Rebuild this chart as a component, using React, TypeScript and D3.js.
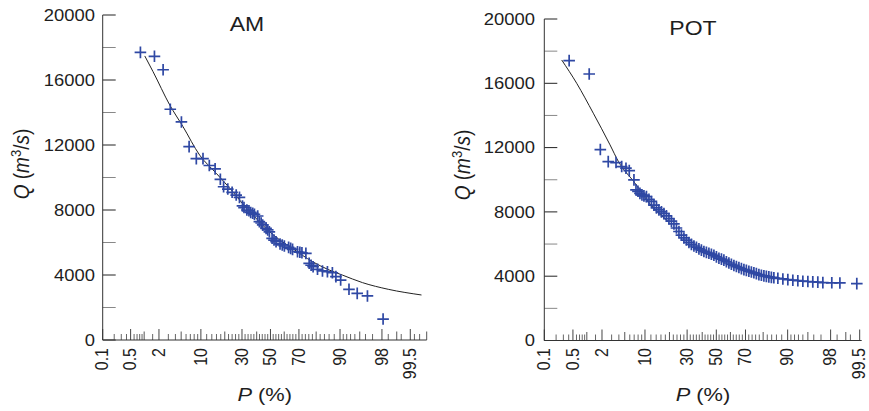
import React from "react";
import * as d3 from "d3";

// ---------- data ----------
const amP = [0.83, 1.63, 2.4, 3.25, 5.05, 6.7, 8.6, 10.7, 13.0, 15.4, 17.8, 19.4, 21.6, 24.0, 26.4, 28.4, 30.3, 31.3, 33.2, 34.6, 35.8, 37.2, 38.4, 40.7, 41.9, 43.2, 44.3, 46.8, 48.0, 49.2, 51.2, 52.6, 54.1, 57.0, 58.6, 60.1, 63.1, 64.5, 65.8, 69.1, 70.6, 71.9, 74.3, 76.2, 77.3, 78.4, 80.7, 83.1, 85.3, 87.3, 88.6, 90.2, 92.6, 94.5, 96.3, 98.1];
const amQ = [17700, 17460, 16630, 14200, 13420, 11900, 11160, 11160, 10740, 10530, 9890, 9430, 9290, 9090, 8920, 8780, 8250, 8150, 8000, 7950, 7850, 7800, 7740, 7630, 7280, 7200, 7080, 6870, 6780, 6660, 6260, 6150, 6050, 5910, 5850, 5785, 5700, 5640, 5580, 5430, 5400, 5370, 5330, 4720, 4600, 4510, 4350, 4250, 4200, 4140, 3900, 3690, 3120, 2870, 2710, 1290];
const amFitP = [1.03, 1.53, 3.18, 5.36, 9.6, 15.9, 24.2, 30.3, 40.5, 51.6, 65.5, 78.1, 86.0, 90.7, 95.5, 98.5, 99.73];
const amFitQ = [17480, 16510, 14460, 13130, 11380, 10260, 9150, 8400, 7400, 6500, 5650, 4820, 4310, 4000, 3530, 3120, 2770];

const potP = [0.41, 1.12, 1.86, 2.61, 3.58, 4.46, 5.23, 5.89, 6.95,
  7.45, 7.96, 8.50, 9.08, 9.68, 10.47, 11.31, 12.20, 13.13, 14.12, 15.13, 16.21, 17.34, 18.51, 19.74, 21.01, 22.33, 23.70, 25.11, 26.53, 28.03, 29.56, 31.14, 32.74, 34.38, 36.05, 37.75, 39.44, 41.18, 42.94, 44.71, 46.49, 48.28, 50.07, 51.87, 53.67, 55.41, 57.18, 58.94, 60.68, 62.40, 64.09, 65.76, 67.40, 69.00, 70.54, 72.07, 73.57, 75.02, 76.42, 77.79, 79.10, 80.37, 81.57, 82.74, 83.87, 84.94,
  86.56, 88.41, 90.06, 91.54, 92.85, 94.00, 95.00, 95.85, 96.59, 97.22, 98.10, 98.68, 99.42];
const potQ = [17410, 16580, 11880, 11130, 11070, 10820, 10720, 10570, 9990,
  9370, 9280, 9150, 9060, 9000, 8950, 8780, 8650, 8420, 8250, 8120, 8000, 7900, 7750, 7580, 7420, 7250, 7000, 6780, 6560, 6380, 6250, 6100, 5980, 5880, 5800, 5700, 5620, 5540, 5480, 5430, 5370, 5300, 5200, 5120, 5060, 5000, 4900, 4820, 4740, 4670, 4600, 4540, 4470, 4410, 4360, 4310, 4260, 4210, 4160, 4100, 4060, 4020, 3990, 3960, 3930, 3900,
  3870, 3830, 3790, 3750, 3720, 3690, 3670, 3650, 3630, 3600, 3590, 3580, 3540];
const potFitP = [0.274, 0.607, 1.355, 2.81, 3.91, 7.2, 11.66, 19.4];
const potFitQ = [17450, 16000, 14140, 12170, 11150, 9790, 8500, 7400];

const labeledTicks = [0.1, 0.5, 2, 10, 30, 50, 70, 90, 98, 99.5];
const midTicks = [1, 5, 20, 40, 60, 80, 95, 99, 99.8];
const minorTicks = [0.2, 0.3, 0.4, 0.6, 0.7, 0.8, 0.9, 1.5, 3, 4, 6, 7, 8, 9, 12, 14, 16, 18, 22, 24, 26, 28, 32, 34, 36, 38, 42, 44, 46, 48, 52, 54, 56, 58, 62, 64, 66, 68, 72, 74, 76, 78, 82, 84, 86, 88, 91, 92, 93, 94, 96, 97, 98.5, 99.2, 99.6, 99.7];
const yTicks = [0, 2000, 4000, 6000, 8000, 10000, 12000, 14000, 16000, 18000, 20000];
const yLabels = [0, 4000, 8000, 12000, 16000, 20000];

// ---------- helpers ----------
function probit(p: number): number {
  const a = [-3.969683028665376e1, 2.209460984245205e2, -2.759285104469687e2, 1.38357751867269e2, -3.066479806614716e1, 2.506628277459239];
  const b = [-5.447609879822406e1, 1.615858368580409e2, -1.556989798598866e2, 6.680131188771972e1, -1.328068155288572e1];
  const c = [-7.784894002430293e-3, -3.223964580411365e-1, -2.400758277161838, -2.549732539343734, 4.374664141464968, 2.938163982698783];
  const d = [7.784695709041462e-3, 3.224671290700398e-1, 2.445134137142996, 3.754408661907416];
  const pl = 0.02425, ph = 1 - pl;
  if (p < pl) {
    const q = Math.sqrt(-2 * Math.log(p));
    return (((((c[0] * q + c[1]) * q + c[2]) * q + c[3]) * q + c[4]) * q + c[5]) / ((((d[0] * q + d[1]) * q + d[2]) * q + d[3]) * q + 1);
  }
  if (p > ph) {
    const q = Math.sqrt(-2 * Math.log(1 - p));
    return -(((((c[0] * q + c[1]) * q + c[2]) * q + c[3]) * q + c[4]) * q + c[5]) / ((((d[0] * q + d[1]) * q + d[2]) * q + d[3]) * q + 1);
  }
  const q = p - 0.5, r = q * q;
  return (((((a[0] * r + a[1]) * r + a[2]) * r + a[3]) * r + a[4]) * r + a[5]) * q / (((((b[0] * r + b[1]) * r + b[2]) * r + b[3]) * r + b[4]) * r + 1);
}

const SX = 1.15;
const FONT = "'Liberation Sans', Arial, Helvetica, sans-serif";
const BLUE = "#2f48a4";
const TXT = "#1e1e1e";
const MS = 5.8;

function T(props: { x: number; y: number; rot?: number; anchor?: string; size: number; dy?: string; children: React.ReactNode }) {
  const { x, y, rot, anchor, size, dy, children } = props;
  return (
    <g transform={`translate(${x},${y}) scale(${SX},1)`}>
      <text transform={rot ? `rotate(${rot})` : undefined} textAnchor={anchor || "start"} fontSize={size} dy={dy} fill={TXT} fontFamily={FONT}>
        {children}
      </text>
    </g>
  );
}

type PanelProps = {
  title: string; titleX: number; titleY: number;
  x0: number; x1: number; pMax: number; yBot: number; yTop: number;
  P: number[]; Q: number[]; fitP: number[]; fitQ: number[];
  tickLabelRight: number; qLabelX: number; qLabelY: number;
};

function Panel(pp: PanelProps) {
  const zs = d3.scaleLinear().domain([probit(0.001), probit(pp.pMax / 100)]).range([pp.x0, pp.x1]);
  const xOf = (p: number) => zs(probit(p / 100));
  const y = d3.scaleLinear().domain([0, 20000]).range([pp.yBot, pp.yTop]);
  const line = d3.line<number>().x((_, i) => xOf(pp.fitP[i])).y((q) => y(q)).curve(d3.curveMonotoneX);
  const inDom = (p: number) => p >= 0.1 && p <= pp.pMax + 1e-9;
  const tick = (p: number, len: number, key: string, col: string) => (
    <line key={key} x1={xOf(p)} x2={xOf(p)} y1={pp.yBot} y2={pp.yBot - len} stroke={col} strokeWidth={1} />
  );
  return (
    <g>
      {yTicks.map((v) => (
        <line key={"yt" + v} x1={pp.x0} x2={pp.x0 + 13} y1={y(v)} y2={y(v)}
          stroke={yLabels.includes(v) ? "#222" : "#888"} strokeWidth={1} />
      ))}
      {yLabels.map((v) => (
        <T key={"yl" + v} x={pp.tickLabelRight} y={y(v)} anchor="end" size={16} dy="0.36em">{String(v)}</T>
      ))}
      {minorTicks.filter(inDom).map((p) => tick(p, 6, "mi" + p, "#666"))}
      {midTicks.filter(inDom).map((p) => tick(p, 8.5, "md" + p, "#555"))}
      {labeledTicks.filter(inDom).map((p) => tick(p, 11, "mj" + p, "#444"))}
      {labeledTicks.filter(inDom).map((p) => (
        <T key={"xl" + p} x={xOf(p) - 1} y={348} rot={-90} anchor="end" size={16} dy="0.36em">{String(p)}</T>
      ))}
      <line x1={pp.x0} x2={pp.x0} y1={pp.yTop} y2={pp.yBot} stroke="#333" strokeWidth={1} />
      <line x1={pp.x0} x2={pp.x1} y1={pp.yBot} y2={pp.yBot} stroke="#333" strokeWidth={1} />
      <path d={line(pp.fitQ) || ""} fill="none" stroke="#222" strokeWidth={1} />
      {pp.P.map((p, i) => {
        const cx = xOf(p), cy = y(pp.Q[i]);
        return <path key={"m" + i} d={`M${cx - MS},${cy}H${cx + MS}M${cx},${cy - MS}V${cy + MS}`} stroke={BLUE} strokeWidth={1.7} fill="none" />;
      })}
      <T x={pp.titleX} y={pp.titleY} anchor="middle" size={20}>{pp.title}</T>
      <T x={(pp.x0 + pp.x1) / 2} y={401} anchor="middle" size={19}>
        <tspan fontStyle="italic">P</tspan> (%)
      </T>
      <T x={pp.qLabelX} y={pp.qLabelY} rot={-90} anchor="middle" size={19}>
        <tspan fontStyle="italic">Q</tspan> (<tspan fontStyle="italic">m</tspan>
        <tspan fontSize={13} dy="-7">3</tspan>
        <tspan dy="7">/</tspan><tspan fontStyle="italic">s</tspan>)
      </T>
    </g>
  );
}

export default function App() {
  return (
    <svg width={869} height={411} style={{ position: "absolute", left: 0, top: 0, background: "#fff" }}>
      <rect x={0} y={0} width={869} height={411} fill="#fff" />
      <Panel title="AM" titleX={247} titleY={31} x0={102.7} x1={426.7} pMax={99.8} yBot={340} yTop={15}
        P={amP} Q={amQ} fitP={amFitP} fitQ={amFitQ} tickLabelRight={95} qLabelX={29} qLabelY={164} />
      <Panel title="POT" titleX={693} titleY={34.5} x0={544.3} x1={861.7} pMax={99.55} yBot={340.5} yTop={19}
        P={potP} Q={potQ} fitP={potFitP} fitQ={potFitQ} tickLabelRight={535} qLabelX={470} qLabelY={165} />
    </svg>
  );
}
